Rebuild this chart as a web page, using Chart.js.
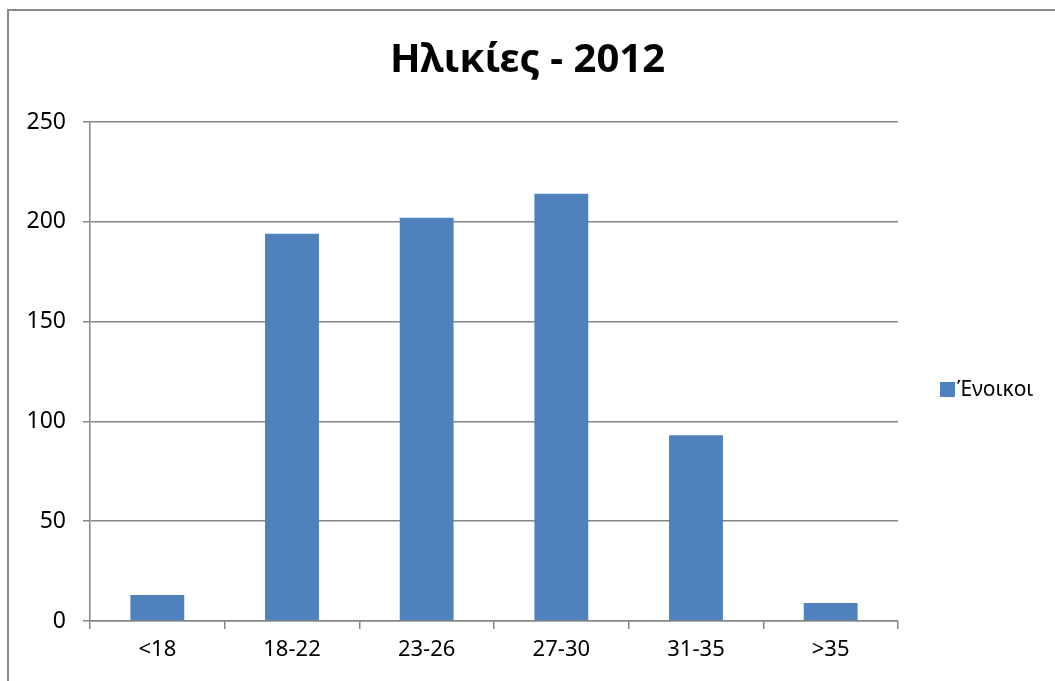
<!DOCTYPE html>
<html>
<head>
<meta charset="utf-8">
<script src="https://cdn.jsdelivr.net/npm/chart.js@4.4.0/dist/chart.umd.min.js"></script>
<style>
    html, body { margin: 0; padding: 0; background: #fff; }
    #wrap { position: relative; width: 1055px; height: 681px; overflow: hidden; }
    #frame { position: absolute; left: 7px; top: 9px; width: 1100px; height: 720px;
             border-left: 2px solid #8a8a8a; border-top: 2px solid #8a8a8a; }
    #ageChart { position: absolute; left: 0; top: 0; }
</style>
</head>
<body>
<div id="wrap">
    <div id="frame"></div>
    <canvas id="ageChart" width="1055" height="681"></canvas>
</div>
<script>
const ageGroups = ['<18', '18-22', '23-26', '27-30', '31-35', '>35'];
const residents = [13, 194, 202, 214, 93, 9];
const seriesName = 'Ένοικοι';
const chartTitle = 'Ηλικίες - 2012';

const fontFamily = '"Noto Sans", "Open Sans", sans-serif';
const gridColor = '#868686';

// Legend on the right, like the Excel one
const sideLegend = {
    id: 'sideLegend',
    afterDraw(chart) {
        const ctx = chart.ctx;
        const area = chart.chartArea;
        const ds = chart.data.datasets[0];
        const x = area.right + 42;
        const yMid = area.top + 268;
        ctx.save();
        ctx.fillStyle = ds.backgroundColor;
        ctx.fillRect(x, yMid - 8, 15, 15);
        ctx.fillStyle = '#000';
        ctx.font = '21px ' + fontFamily;
        ctx.textBaseline = 'middle';
        ctx.fillText(ds.label, x + 17, yMid);
        ctx.restore();
    }
};

const ctx = document.getElementById('ageChart').getContext('2d');
new Chart(ctx, {
    type: 'bar',
    data: {
        labels: ageGroups,
        datasets: [{
            label: seriesName,
            data: residents,
            backgroundColor: '#4F81BD',
            borderWidth: 0,
            barPercentage: 0.4,
            categoryPercentage: 1.0
        }]
    },
    options: {
        responsive: false,
        animation: false,
        layout: { padding: 0 },
        plugins: {
            legend: { display: false },
            tooltip: { enabled: false },
            title: {
                display: true,
                text: chartTitle,
                color: '#000',
                font: { family: fontFamily, size: 40, weight: 'bold' },
                padding: { top: 37, bottom: 37 }
            }
        },
        scales: {
            x: {
                grid: { offset: true, drawOnChartArea: false, color: gridColor, lineWidth: 1.5, tickLength: 8 },
                border: { color: gridColor, width: 1.5 },
                ticks: { color: '#000', font: { family: fontFamily, size: 22 }, padding: 8 },
                afterFit: s => { s.height = 60; }
            },
            y: {
                min: 0,
                max: 250,
                ticks: { stepSize: 50, color: '#000', font: { family: fontFamily, size: 23 }, padding: 17 },
                grid: { color: gridColor, lineWidth: 1.5, tickLength: 7 },
                border: { color: gridColor, width: 1.5 },
                afterFit: s => { s.width = 90; }
            },
            // empty box on the right that keeps room for the legend
            legendSpace: {
                type: 'linear',
                position: 'right',
                grid: { display: false },
                border: { display: false },
                ticks: { display: false },
                afterFit: s => { s.width = 157; }
            }
        }
    },
    plugins: [sideLegend]
});
</script>
</body>
</html>
